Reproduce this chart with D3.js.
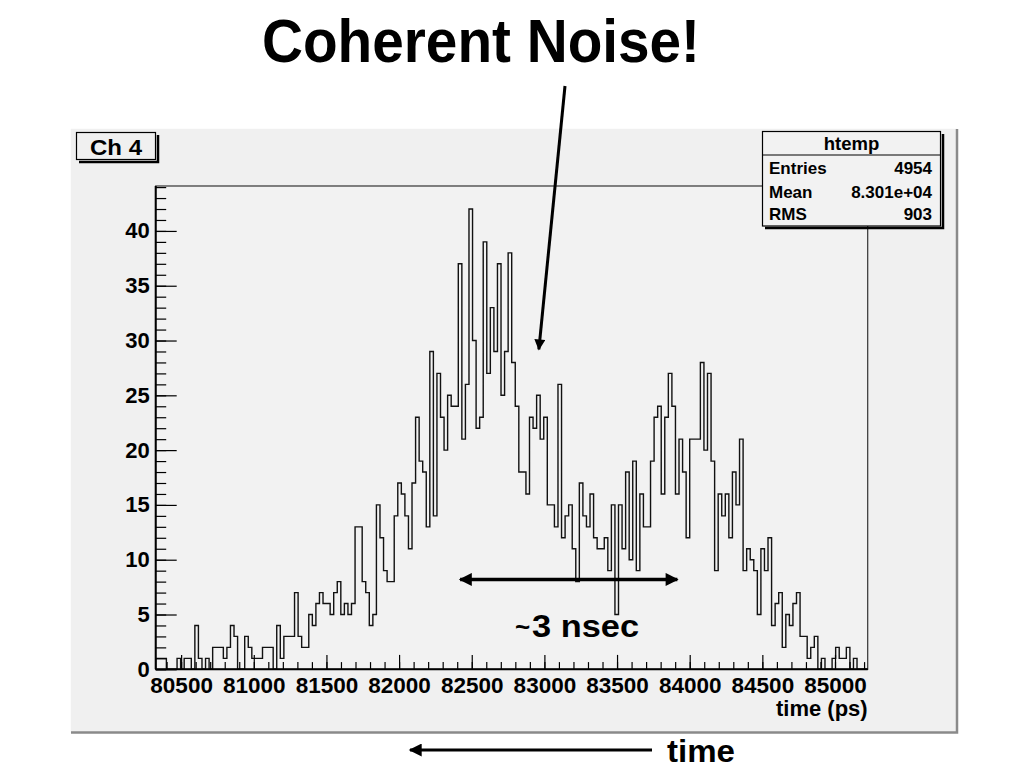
<!DOCTYPE html>
<html>
<head>
<meta charset="utf-8">
<script src="https://cdn.jsdelivr.net/npm/d3@7"></script>
<style>
  html, body { margin: 0; padding: 0; background: #ffffff; }
  svg { display: block; }
  text { font-family: "Liberation Sans", Arial, Helvetica, sans-serif; font-weight: bold; fill: #000; }
</style>
</head>
<body>
<svg id="chart" width="1024" height="768"></svg>
<script>
// ---------------- data ----------------
const histName = "htemp";
const padTitle = "Ch 4";
const xTitle = "time (ps)";
const xMin = 80325;          // histogram lower edge (ps)
const xMax = 85225;          // histogram upper edge (ps)
const yMax = 44.1;           // frame maximum
// bin contents (200 bins)
const counts = [
  1,1,1,0,0,0,1,0,1,1,
  0,4,1,0,1,0,2,2,2,1,
  2,4,3,0,0,3,2,1,1,1,
  2,2,2,0,4,1,3,3,3,7,
  3,2,2,5,4,6,7,6,6,5,
  7,8,5,6,5,6,13,13,8,7,
  4,5,15,12,9,8,8,14,17,16,
  14,11,17,23,19,18,13,29,14,27,
  23,20,25,24,24,37,21,26,42,30,
  22,23,39,27,33,29,37,25,29,38,
  28,24,18,18,16,23,22,25,21,23,
  15,15,13,26,12,14,15,11,8,17,
  14,13,16,12,11,11,12,9,15,5,
  15,11,18,10,19,9,16,13,13,19,
  23,24,16,23,27,24,16,21,18,12,
  21,21,21,28,20,27,19,9,16,14,
  16,12,18,15,21,9,11,10,9,5,
  11,9,12,4,6,7,2,5,4,6,
  7,3,3,1,2,3,0,1,0,0,
  1,2,1,1,2,0,1,0,0,0
];
const xMajorTicks = [80500, 81000, 81500, 82000, 82500, 83000, 83500, 84000, 84500, 85000];
const xMinorTicks = d3.range(80400, 85201, 100);
const yMajorTicks = [0, 5, 10, 15, 20, 25, 30, 35, 40];
const yMinorTicks = d3.range(0, 45, 1);
const statLabels = ["Entries", "Mean", "RMS"];
const statValues = ["4954", "8.301e+04", "903"];
const spanStart = 82420, spanEnd = 83915, spanLevel = 8.2;   // "~3 nsec" arrow
const pointTo = [82962, 29.2];                                 // tip of "Coherent Noise!" pointer

// ---------------- layout ----------------
const svg = d3.select("#chart");
const F = {l: 155.7, r: 867.7, t: 186, b: 669.3};
const x = d3.scaleLinear().domain([xMin, xMax]).range([F.l, F.r]);
const y = d3.scaleLinear().domain([0, yMax]).range([F.b, F.t]);

// defs: arrow heads
const defs = svg.append("defs");
function marker(id, w, h) {
  defs.append("marker").attr("id", id).attr("viewBox", "0 0 10 10")
    .attr("refX", 9).attr("refY", 5).attr("markerUnits", "userSpaceOnUse")
    .attr("markerWidth", w).attr("markerHeight", h).attr("orient", "auto-start-reverse")
    .append("path").attr("d", "M0,0 L10,5 L0,10 Z").attr("fill", "#000");
}
marker("ah", 17, 13);
marker("ahs", 14, 11);

// title
svg.append("text").attr("x", 481).attr("y", 62).attr("text-anchor", "middle")
  .attr("font-size", 61).attr("textLength", 438).attr("lengthAdjust", "spacingAndGlyphs")
  .text("Coherent Noise!");

// pad (canvas)
svg.append("rect").attr("x", 70).attr("y", 128).attr("width", 887).attr("height", 605)
  .attr("fill", "#f0f0f0");
svg.append("path").attr("d", "M70,733 V128 H957").attr("fill", "none").attr("stroke", "#ffffff").attr("stroke-width", 1.5);
svg.append("path").attr("d", "M957,129 V732.5 H71").attr("fill", "none").attr("stroke", "#8a8a8a").attr("stroke-width", 2.5);

// frame
svg.append("rect").attr("x", F.l).attr("y", F.t).attr("width", F.r - F.l).attr("height", F.b - F.t)
  .attr("fill", "#f2f2f2").attr("stroke", "#333").attr("stroke-width", 1.2);

// histogram
const binW = (xMax - xMin) / counts.length;
let d = `M${x(xMin)},${y(0)}`;
counts.forEach((c, i) => { d += `V${y(c)}H${x(xMin + (i + 1) * binW)}`; });
d += `V${y(0)}`;
svg.append("path").attr("d", d).attr("fill", "none").attr("stroke", "#111").attr("stroke-width", 1.4);

// axes
const gxMinor = svg.append("g").attr("transform", `translate(0,${F.b})`)
  .call(d3.axisBottom(x).tickValues(xMinorTicks).tickSize(-7.2).tickFormat(""));
const gx = svg.append("g").attr("transform", `translate(0,${F.b})`)
  .call(d3.axisBottom(x).tickValues(xMajorTicks).tickSize(-14.4).tickPadding(8).tickFormat(d3.format("d")));
const gyMinor = svg.append("g").attr("transform", `translate(${F.l},0)`)
  .call(d3.axisLeft(y).tickValues(yMinorTicks).tickSize(-10.5).tickFormat(""));
const gy = svg.append("g").attr("transform", `translate(${F.l},0)`)
  .call(d3.axisLeft(y).tickValues(yMajorTicks).tickSize(-21).tickPadding(6).tickFormat(d3.format("d")));
[gxMinor, gx, gyMinor, gy].forEach(g => {
  g.select(".domain").remove();
  g.selectAll("line").attr("stroke", "#000").attr("stroke-width", 1.2);
  g.selectAll("text").attr("font-size", 22).attr("font-family", null).attr("fill", "#000");
});
gx.selectAll("text").attr("font-size", 22.5);
gy.selectAll("text").attr("font-size", 22);
// axis lines
svg.append("line").attr("x1", F.l).attr("x2", F.r).attr("y1", F.b).attr("y2", F.b).attr("stroke", "#000").attr("stroke-width", 2);
svg.append("line").attr("x1", F.l).attr("x2", F.l).attr("y1", F.t).attr("y2", F.b).attr("stroke", "#000").attr("stroke-width", 2);

// x title
svg.append("text").attr("x", F.r).attr("y", 716).attr("text-anchor", "end").attr("font-size", 22).text(xTitle);

// pad title box
svg.append("path").attr("d", "M79,162 H158 V135").attr("fill", "none").attr("stroke", "#000").attr("stroke-width", 2.5);
svg.append("rect").attr("x", 76.5).attr("y", 132.5).attr("width", 79).attr("height", 27)
  .attr("fill", "#f0f0f0").attr("stroke", "#000").attr("stroke-width", 1.2);
svg.append("text").attr("x", 116).attr("y", 154.5).attr("text-anchor", "middle").attr("font-size", 22)
  .attr("textLength", 52).attr("lengthAdjust", "spacingAndGlyphs").text(padTitle);

// stats box
svg.append("path").attr("d", "M765,228 H943 V134").attr("fill", "none").attr("stroke", "#000").attr("stroke-width", 2.5);
svg.append("rect").attr("x", 762.5).attr("y", 131.5).attr("width", 178).attr("height", 94.5)
  .attr("fill", "#f2f2f2").attr("stroke", "#000").attr("stroke-width", 1.2);
svg.append("line").attr("x1", 762.5).attr("x2", 940.5).attr("y1", 155).attr("y2", 155).attr("stroke", "#000").attr("stroke-width", 1.2);
svg.append("text").attr("x", 851.5).attr("y", 150).attr("text-anchor", "middle").attr("font-size", 18.5).text(histName);
const rowY = [174, 197.5, 220];
statLabels.forEach((s, i) => {
  svg.append("text").attr("x", 769).attr("y", rowY[i]).attr("font-size", 17).text(s);
  svg.append("text").attr("x", 932).attr("y", rowY[i]).attr("text-anchor", "end").attr("font-size", 17).text(statValues[i]);
});

// pointer from title
svg.append("line").attr("x1", 565).attr("y1", 86).attr("x2", x(pointTo[0])).attr("y2", y(pointTo[1]))
  .attr("stroke", "#000").attr("stroke-width", 3).attr("marker-end", "url(#ahs)");

// "~3 nsec" double arrow
svg.append("line").attr("x1", x(spanStart)).attr("x2", x(spanEnd)).attr("y1", y(spanLevel)).attr("y2", y(spanLevel))
  .attr("stroke", "#000").attr("stroke-width", 3.5)
  .attr("marker-start", "url(#ah)").attr("marker-end", "url(#ah)");
svg.append("text").attr("x", 515).attr("y", 636).attr("font-size", 26).text("~");
svg.append("text").attr("x", 532).attr("y", 637).attr("font-size", 31)
  .attr("textLength", 107).attr("lengthAdjust", "spacingAndGlyphs").text("3 nsec");

// time arrow at bottom
svg.append("line").attr("x1", 652).attr("x2", 410).attr("y1", 750).attr("y2", 750)
  .attr("stroke", "#000").attr("stroke-width", 3).attr("marker-end", "url(#ah)");
svg.append("text").attr("x", 667).attr("y", 762).attr("font-size", 31)
  .attr("textLength", 68).attr("lengthAdjust", "spacingAndGlyphs").text("time");
</script>
</body>
</html>
